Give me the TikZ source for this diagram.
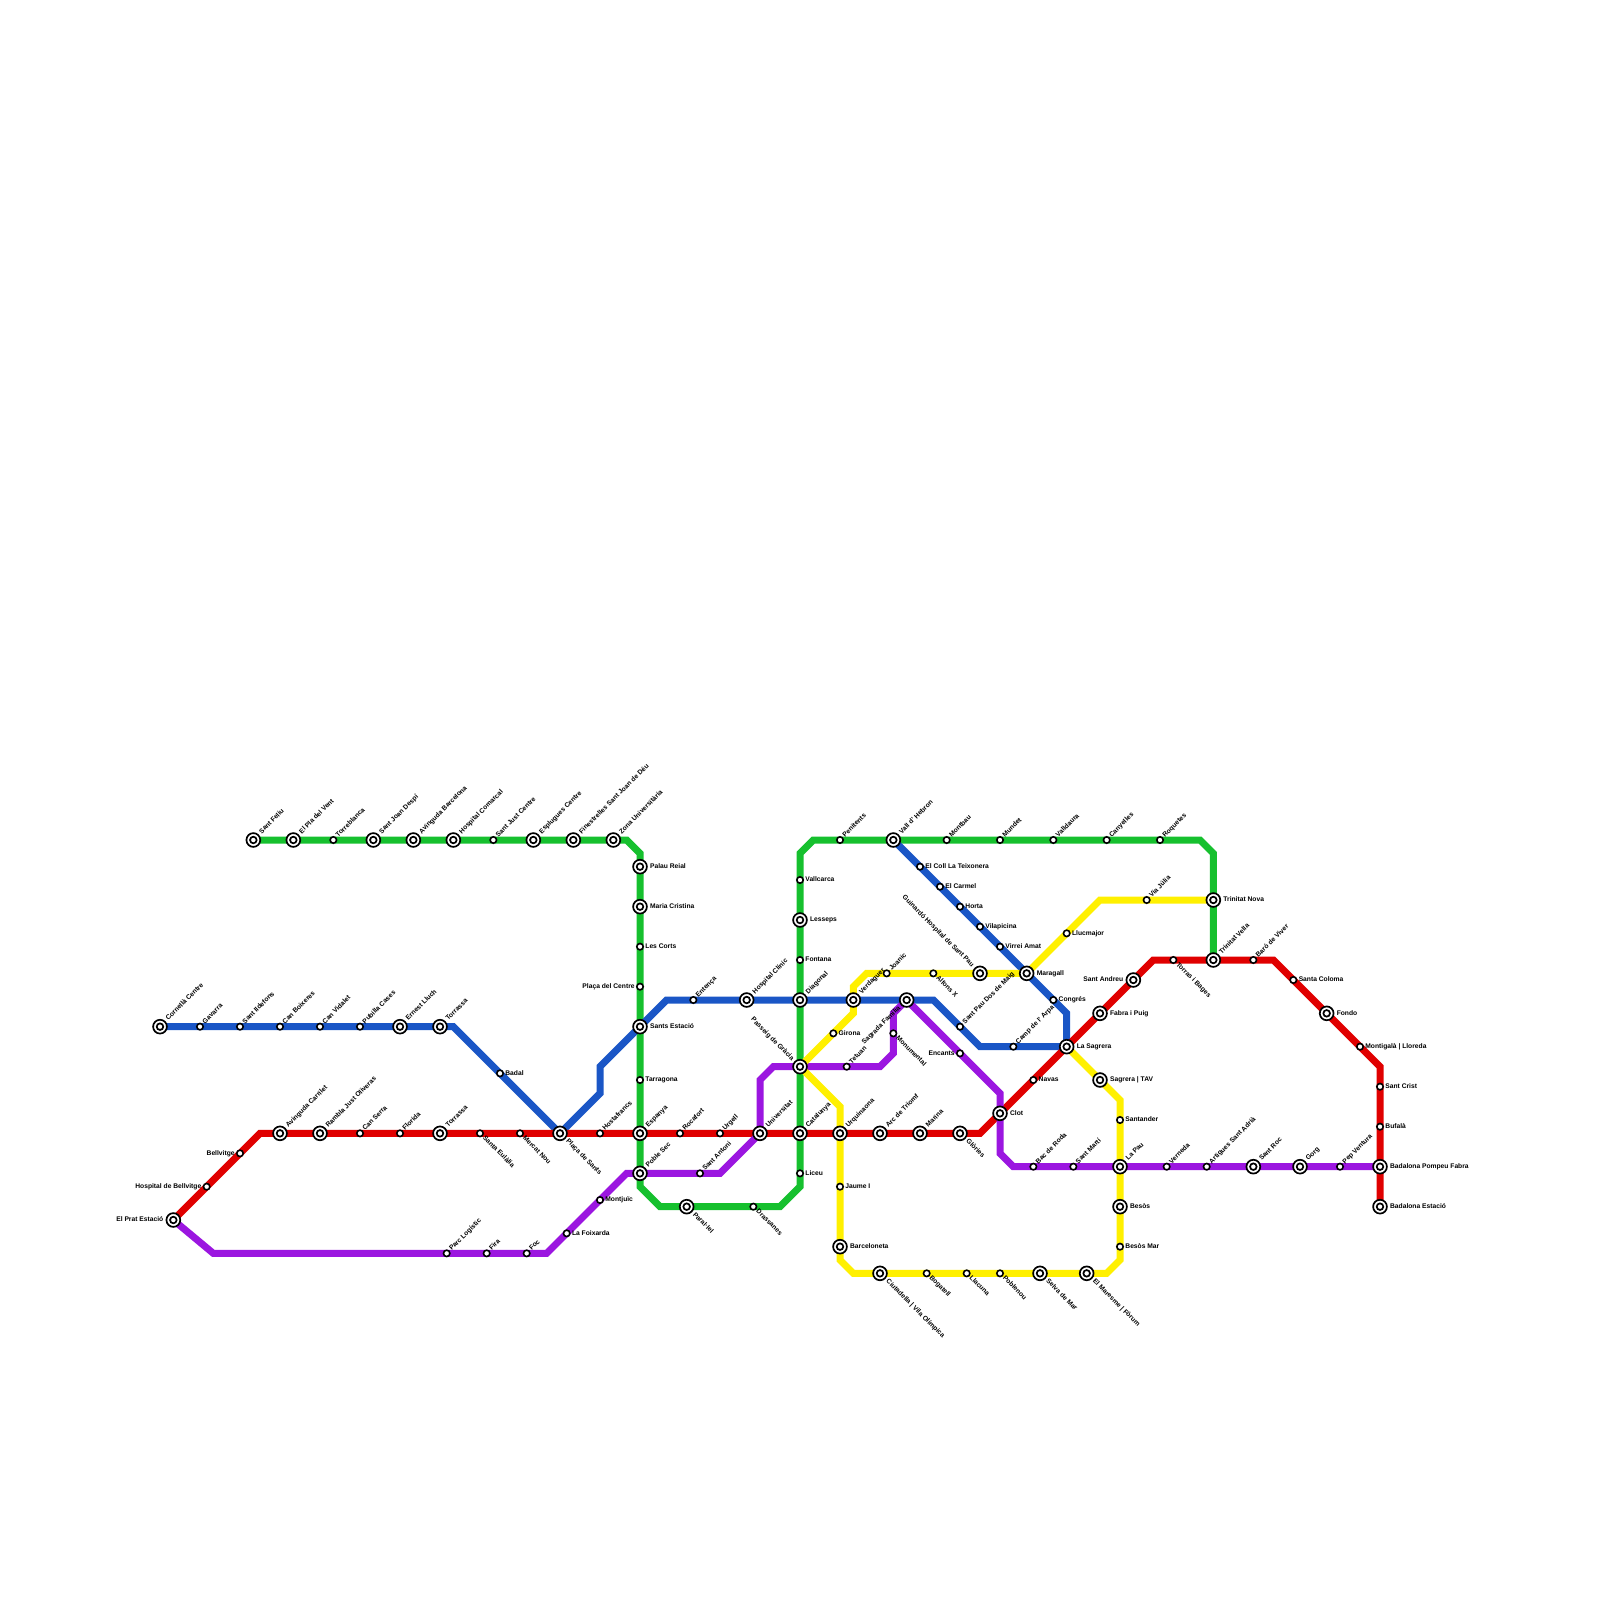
\documentclass[tikz,border=0pt]{standalone}
\usepackage{fontspec}
\setmainfont{Liberation Sans}
\usetikzlibrary{backgrounds}
\definecolor{linegreen}{HTML}{16C02E}
\definecolor{lineblue}{HTML}{1A56C6}
\definecolor{linered}{HTML}{E00000}
\definecolor{linepurple}{HTML}{9B16E0}
\definecolor{lineyellow}{HTML}{FFF000}
\begin{document}
\begin{tikzpicture}[
    x=6.6667pt, y=-6.6667pt,
    metro/.style={line width=7pt},
    stop/.style={circle, draw, fill=white, inner sep=0pt, minimum size=6.4pt, line width=1.6pt},
    hub/.style={circle, draw, fill=white, inner sep=0pt, minimum size=13.8pt, line width=1.7pt,
      outer sep=1.8pt,
      path picture={\draw[line width=1.7pt] (path picture bounding box.center) circle (3.3pt);}},
    lbl/.style={font=\bfseries\fontsize{6.7}{8}\selectfont, inner sep=1.2pt,
      text height=5pt, text depth=1.4pt},
    lbl45/.style={lbl, rotate=45, anchor=west},
    lbl0/.style={lbl, anchor=west},
    lbl180/.style={lbl, anchor=east},
    lbl315/.style={lbl, rotate=-45, anchor=west},
    lbl135/.style={lbl, rotate=-45, anchor=east},
    lbl225/.style={lbl, rotate=45, anchor=east},
  ]
  \useasboundingbox (0,0) rectangle (240,240);

  % Green line stations
  \foreach \id/\x/\y/\kind/\ang/\txt in {
    sfe/38/126/hub/45/{Sant Feliu}, pla/44/126/hub/45/{El Pla del Vent},
    tbl/50/126/stop/45/{Torreblanca}, sjd/56/126/hub/45/{Sant Joan Despí},
    abc/62/126/hub/45/{Avinguda Barcelona}, hco/68/126/hub/45/{Hospital Comarcal},
    sjc/74/126/stop/45/{Sant Just Centre}, esc/80/126/hub/45/{Esplugues Centre},
    fin/86/126/hub/45/{Finestrelles Sant Joan de Déu}, zun/92/126/hub/45/{Zona Universitària},
    pre/96/130/hub/0/{Palau Reial}, mcr/96/136/hub/0/{Maria Cristina},
    cor/96/142/stop/0/{Les Corts}, pce/96/148/stop/180/{Plaça del Centre},
    sts/96/154/hub/0/{Sants Estació}, tar/96/162/stop/0/{Tarragona},
    esp/96/170/hub/45/{Espanya}, pse/96/176/hub/45/{Poble Sec},
    par/103/181/hub/315/{Paral·lel}, dra/113/181/stop/315/{Drassanes},
    lic/120/176/stop/0/{Liceu}, cat/120/170/hub/45/{Catalunya},
    pgr/120/160/hub/135/{Passeig de Gràcia}, dia/120/150/hub/45/{Diagonal},
    fon/120/144/stop/0/{Fontana}, les/120/138/hub/0/{Lesseps},
    val/120/132/stop/0/{Vallcarca}, pen/126/126/stop/45/{Penitents},
    vhe/134/126/hub/45/{Vall d' Hebron}, mon/142/126/stop/45/{Montbau},
    mun/150/126/stop/45/{Mundet}, vld/158/126/stop/45/{Valldaura},
    can/166/126/stop/45/{Canyelles}, roq/174/126/stop/45/{Roquetes},
    tno/182/135/hub/0/{Trinitat Nova}, tve/182/144/hub/45/{Trinitat Vella}
  } {
    \node[\kind] (\id) at (\x,\y) {};
    \node[lbl\ang] (\id-lbl) at (\id.\ang) {\txt};
  }

  % Blue line stations
  \foreach \id/\x/\y/\kind/\ang/\txt in {
    cce/24/154/hub/45/{Cornellà Centre}, gav/30/154/stop/45/{Gavarra},
    sil/36/154/stop/45/{Sant Ildefons}, cbo/42/154/stop/45/{Can Boixeres},
    cvi/48/154/stop/45/{Can Vidalet}, pub/54/154/stop/45/{Pubilla Cases},
    ell/60/154/hub/45/{Ernest Lluch}, tora/66/154/hub/45/{Torrassa},
    bad/75/161/stop/0/{Badal}, psa/84/170/hub/315/{Plaça de Sants},
    ent/104/150/stop/45/{Entença}, hcl/112/150/hub/45/{Hospital Clínic},
    ver/128/150/hub/45/{Verdaguer}, sfa/136/150/hub/225/{Sagrada Família},
    spa/144/154/stop/45/{Sant Pau Dos de Maig}, cda/152/157/stop/45/{Camp de l' Arpa},
    sag/160/157/hub/0/{La Sagrera}, con/158/150/stop/0/{Congrés},
    mar/154/146/hub/0/{Maragall}, vam/150/142/stop/0/{Virrei Amat},
    vil/147/139/stop/0/{Vilapicina}, hor/144/136/stop/0/{Horta},
    car/141/133/stop/0/{El Carmel}, col/138/130/stop/0/{El Coll La Teixonera}
  } {
    \node[\kind] (\id) at (\x,\y) {};
    \node[lbl\ang] (\id-lbl) at (\id.\ang) {\txt};
  }

  % Red line stations
  \foreach \id/\x/\y/\kind/\ang/\txt in {
    pra/26/183/hub/180/{El Prat Estació}, hbe/31/178/stop/180/{Hospital de Bellvitge},
    bel/36/173/stop/180/{Bellvitge}, aca/42/170/hub/45/{Avinguda Carrilet},
    rjo/48/170/hub/45/{Rambla Just Oliveras}, cse/54/170/stop/45/{Can Serra},
    flo/60/170/stop/45/{Florida}, torb/66/170/hub/45/{Torrassa},
    seu/72/170/stop/315/{Santa Eulàlia}, mno/78/170/stop/315/{Mercat Nou},
    hos/90/170/stop/45/{Hostafrancs}, roc/102/170/stop/45/{Rocafort},
    urg/108/170/stop/45/{Urgell}, uni/114/170/hub/45/{Universitat},
    urq/126/170/hub/45/{Urquinaona}, arc/132/170/hub/45/{Arc de Triomf},
    mna/138/170/hub/45/{Marina}, glo/144/170/hub/315/{Glòries},
    clo/150/167/hub/0/{Clot}, nav/155/162/stop/0/{Navas},
    fab/165/152/hub/0/{Fabra i Puig}, san/170/147/hub/180/{Sant Andreu},
    tib/176/144/stop/315/{Torras i Bages}, bar/188/144/stop/45/{Baró de Viver},
    sco/194/147/stop/0/{Santa Coloma}, fdo/199/152/hub/0/{Fondo},
    mll/204/157/stop/0/{Montigalà | Lloreda}, scr/207/163/stop/0/{Sant Crist},
    buf/207/169/stop/0/{Bufalà}, bpf/207/175/hub/0/{Badalona Pompeu Fabra},
    bes/207/181/hub/0/{Badalona Estació}
  } {
    \node[\kind] (\id) at (\x,\y) {};
    \node[lbl\ang] (\id-lbl) at (\id.\ang) {\txt};
  }

  % Purple line stations
  \foreach \id/\x/\y/\kind/\ang/\txt in {
    plo/67/188/stop/45/{Parc Logístic}, fir/73/188/stop/45/{Fira},
    foc/79/188/stop/45/{Foc}, fox/85/185/stop/0/{La Foixarda},
    mjc/90/180/stop/0/{Montjuïc}, san2/105/176/stop/45/{Sant Antoni},
    tet/127/160/stop/45/{Tetuan}, mnt/134/155/stop/315/{Monumental},
    enc/144/158/stop/180/{Encants}, bac/155/175/stop/45/{Bac de Roda},
    smt/161/175/stop/45/{Sant Martí}, pau/168/175/hub/45/{La Pau},
    vrn/175/175/stop/45/{Verneda}, art/181/175/stop/45/{Artigues Sant Adrià},
    src/188/175/hub/45/{Sant Roc}, gor/195/175/hub/45/{Gorg},
    pep/201/175/stop/45/{Pep Ventura}
  } {
    \node[\kind] (\id) at (\x,\y) {};
    \node[lbl\ang] (\id-lbl) at (\id.\ang) {\txt};
  }

  % Yellow line stations
  \foreach \id/\x/\y/\kind/\ang/\txt in {
    vju/172/135/stop/45/{Via Júlia}, llu/160/140/stop/0/{Llucmajor},
    gui/147/146/hub/135/{Guinardó Hospital de Sant Pau}, alf/140/146/stop/315/{Alfons X},
    joa/133/146/stop/45/{Joanic}, gir/125/155/stop/0/{Girona},
    jau/126/178/stop/0/{Jaume I}, bna/126/187/hub/0/{Barceloneta},
    ciu/132/191/hub/315/{Ciutadella | Vila Olímpica}, bog/139/191/stop/315/{Bogatell},
    lla/145/191/stop/315/{Llacuna}, pob/150/191/stop/315/{Poblenou},
    sel/156/191/hub/315/{Selva de Mar}, fru/163/191/hub/315/{El Maresme | Fòrum},
    bma/168/187/stop/0/{Besòs Mar}, bos/168/181/hub/0/{Besòs},
    stn/168/168/stop/0/{Santander}, tav/165/162/hub/0/{Sagrera | TAV}
  } {
    \node[\kind] (\id) at (\x,\y) {};
    \node[lbl\ang] (\id-lbl) at (\id.\ang) {\txt};
  }

  % Bends
  \foreach \id/\x/\y in {
    g1/94/126, g2/96/128, g3/96/178, g4/99/181, g5/117/181, g6/120/178,
    g7/120/128, g8/122/126, g9/180/126, g10/182/128,
    b1/68/154, b2/90/164, b3/90/160, b4/100/150, b5/140/150, b6/147/157, b7/160/152,
    r1/39/170, r2/147/170, r3/173/144, r4/191/144, r5/207/160,
    p1/32/188, p2/82/188, p3/94/176, p4/108/176, p5/114/162, p6/116/160, p7/132/160,
    p8/134/158, p9/134/152, p10/150/164, p11/150/173, p12/152/175,
    y1/165/135, y2/130/146, y3/128/148, y4/128/152, y5/126/166, y6/126/189, y7/128/191,
    y8/166/191, y9/168/189, y10/168/165
  } {
    \coordinate (\id) at (\x,\y);
  }

  \begin{scope}[on background layer]
    \draw[metro, linegreen] (sfe.center) -- (g1) -- (g2) -- (g3) -- (g4) -- (g5) -- (g6)
      -- (g7) -- (g8) -- (g9) -- (g10) -- (tve.center);
    \draw[metro, lineblue] (cce.center) -- (b1) -- (psa.center) -- (b2) -- (b3) -- (b4)
      -- (b5) -- (b6) -- (sag.center) -- (b7) -- (vhe.center);
    \draw[metro, linered] (pra.center) -- (r1) -- (r2) -- (r3) -- (r4) -- (r5) -- (bes.center);
    \draw[metro, linepurple] (pra.center) -- (p1) -- (p2) -- (p3) -- (p4) -- (uni.center)
      -- (p5) -- (p6) -- (p7) -- (p8) -- (p9) -- (sfa.center) -- (p10) -- (p11) -- (p12)
      -- (bpf.center);
    \draw[metro, lineyellow] (tno.center) -- (y1) -- (mar.center) -- (y2) -- (y3) -- (y4)
      -- (pgr.center) -- (y5) -- (y6) -- (y7) -- (y8) -- (y9) -- (y10) -- (sag.center);
  \end{scope}
\end{tikzpicture}
\end{document}
